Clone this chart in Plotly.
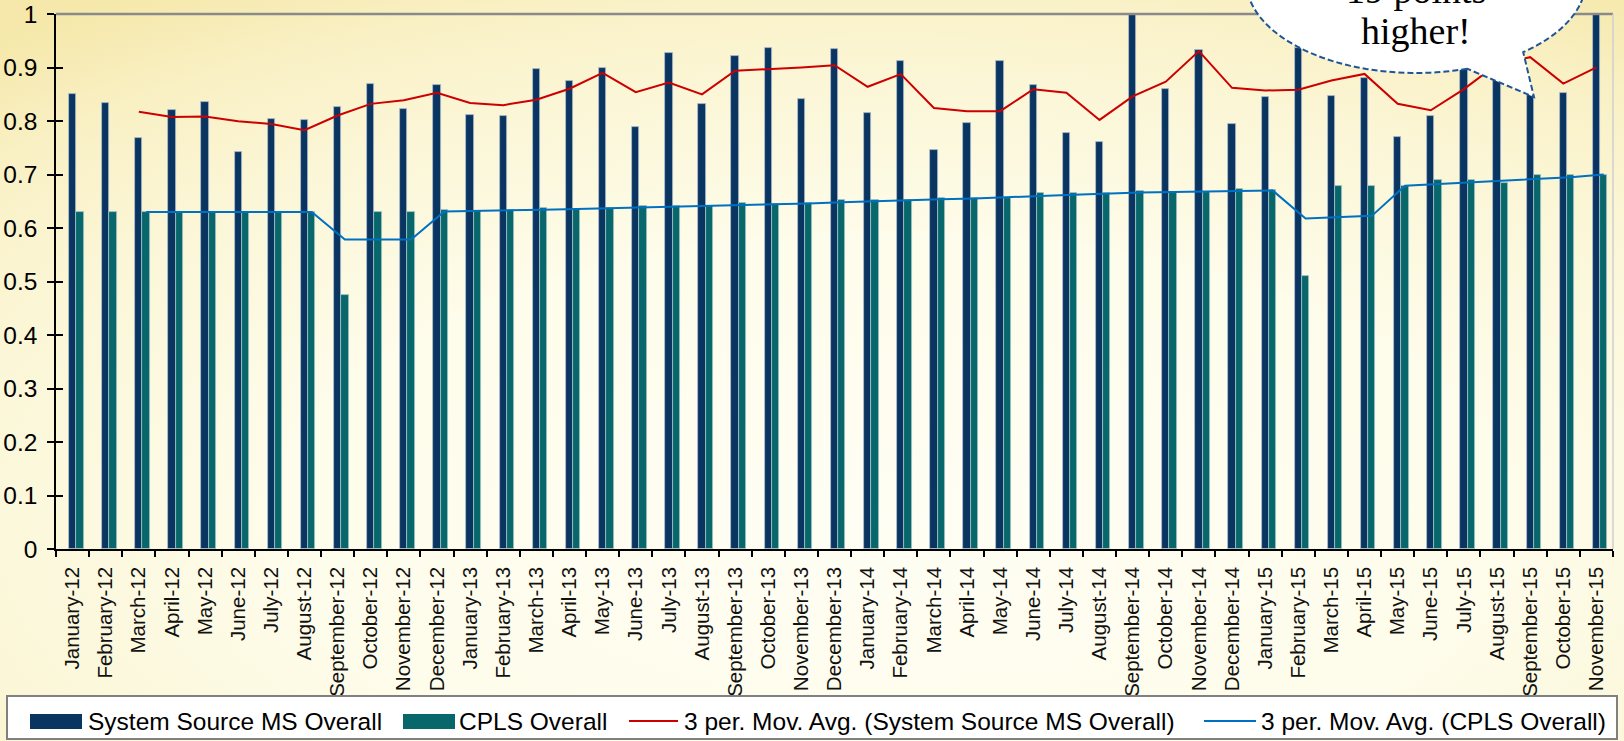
import base64
import numpy as np
import pandas as pd
import plotly.graph_objects as go

# ---------------- data ----------------
months = ["January", "February", "March", "April", "May", "June", "July",
          "August", "September", "October", "November", "December"]
years = ["12", "13", "14", "15"]
categories = [f"{m}-{y}" for y in years for m in months][:47]   # Jan-12 .. Nov-15

system_source_ms = [0.850, 0.833, 0.769, 0.820, 0.836, 0.743, 0.804, 0.801, 0.826, 0.869, 0.822, 0.867,
                    0.812, 0.810, 0.897, 0.874, 0.899, 0.789, 0.928, 0.832, 0.922, 0.936, 0.842, 0.935,
                    0.815, 0.913, 0.745, 0.797, 0.913, 0.868, 0.777, 0.761, 1.000, 0.859, 0.933, 0.794,
                    0.844, 0.937, 0.846, 0.881, 0.770, 0.809, 1.000, 0.909, 0.849, 0.852, 1.000]
cpls = [0.630, 0.630, 0.630, 0.630, 0.630, 0.630, 0.630, 0.630, 0.475, 0.630, 0.630, 0.633,
        0.632, 0.634, 0.637, 0.636, 0.638, 0.642, 0.641, 0.642, 0.646, 0.645, 0.647, 0.652,
        0.652, 0.652, 0.657, 0.657, 0.657, 0.665, 0.665, 0.665, 0.669, 0.668, 0.668, 0.672,
        0.671, 0.510, 0.679, 0.679, 0.679, 0.689, 0.689, 0.685, 0.700, 0.700, 0.700]

series_names = ["System Source MS Overall", "CPLS Overall",
                "3 per. Mov. Avg. (System Source MS Overall)", "3 per. Mov. Avg. (CPLS Overall)"]
callout_lines = ["19 points", "higher!"]

# 3-period moving-average trendlines (Excel style)
ma_ss = pd.Series(system_source_ms).rolling(3).mean()
ma_cpls = pd.Series(cpls).rolling(3).mean()
idx = np.arange(len(categories))

# ---------------- geometry ----------------
W, H = 1624, 741
ML, MR, MT, MB = 56, 11, 14, 192
PW, PH = W - ML - MR, H - MT - MB


def px(x):
    return (x - ML) / PW


def py(y):
    return 1 - (y - MT) / PH


NAVY = "#0B3561"
TEAL = "#07676B"
RED = "#CC0000"
BLUE = "#0070C0"
BAR_W = 0.22

fig = go.Figure()
fig.add_trace(go.Bar(x=categories, y=system_source_ms, name=series_names[0],
                     width=BAR_W, offset=-BAR_W / 2, marker_color=NAVY,
                     marker_line=dict(color="rgba(175,195,215,0.9)", width=0.8),
                     showlegend=False))
fig.add_trace(go.Bar(x=categories, y=cpls, name=series_names[1],
                     width=BAR_W, offset=BAR_W / 2, marker_color=TEAL,
                     marker_line=dict(color="rgba(175,200,205,0.9)", width=0.8),
                     showlegend=False))
valid = ~ma_ss.isna().values
fig.add_trace(go.Scatter(x=idx[valid], y=ma_ss[valid], mode="lines", name=series_names[2],
                         line=dict(color=RED, width=2), xaxis="x2", yaxis="y2", showlegend=False))
fig.add_trace(go.Scatter(x=idx[valid] + BAR_W, y=ma_cpls[valid], mode="lines", name=series_names[3],
                         line=dict(color=BLUE, width=2), xaxis="x2", yaxis="y2", showlegend=False))

# background radial gradient
svg = (f"<svg xmlns='http://www.w3.org/2000/svg' width='{W}' height='{H}'>"
       "<defs><radialGradient id='g' cx='0.55' cy='0.7' r='0.85'>"
       "<stop offset='0' stop-color='#FFFEF4'/>"
       "<stop offset='0.45' stop-color='#FEFCEA'/>"
       "<stop offset='0.7' stop-color='#FBF6D6'/>"
       "<stop offset='0.86' stop-color='#F9F0C4'/>"
       "<stop offset='1' stop-color='#F5E8AA'/>"
       "</radialGradient></defs>"
       f"<rect width='{W}' height='{H}' fill='url(#g)'/></svg>")
bg_src = "data:image/svg+xml;base64," + base64.b64encode(svg.encode()).decode()

shapes = []
# plot-area top / right border
shapes.append(dict(type="line", xref="paper", yref="paper", x0=0, x1=1, y0=1, y1=1,
                   line=dict(color="#8A8A8A", width=2.5), layer="above"))
shapes.append(dict(type="line", xref="paper", yref="paper", x0=1, x1=1, y0=0, y1=1,
                   line=dict(color="#CFCFCF", width=1.5), layer="above"))

# speech bubble (ellipse + tail)
cx, cy, a, b = 1416, -20, 170, 93
th = np.radians(np.linspace(72.5, 410.9, 160))
ex = cx + a * np.cos(th)
ey = cy + b * np.sin(th)
pts = list(zip(ex, ey)) + [(1534, 97)]
path = "M " + " L ".join(f"{px(x):.5f},{py(y):.5f}" for x, y in pts) + " Z"
shapes.append(dict(type="path", xref="paper", yref="paper", path=path,
                   fillcolor="white", line=dict(color="#1F5597", width=2, dash="6px,3px"),
                   layer="above"))

# custom legend
shapes.append(dict(type="rect", xref="paper", yref="paper",
                   x0=px(7), x1=px(1617), y0=py(696), y1=py(739),
                   fillcolor="white", line=dict(color="#808080", width=2), layer="above"))
shapes.append(dict(type="rect", xref="paper", yref="paper",
                   x0=px(30), x1=px(82), y0=py(714), y1=py(729),
                   fillcolor=NAVY, line=dict(width=0), layer="above"))
shapes.append(dict(type="rect", xref="paper", yref="paper",
                   x0=px(403), x1=px(455), y0=py(714), y1=py(729),
                   fillcolor=TEAL, line=dict(width=0), layer="above"))
shapes.append(dict(type="line", xref="paper", yref="paper",
                   x0=px(629), x1=px(678), y0=py(721), y1=py(721),
                   line=dict(color=RED, width=2), layer="above"))
shapes.append(dict(type="line", xref="paper", yref="paper",
                   x0=px(1204), x1=px(1256), y0=py(721), y1=py(721),
                   line=dict(color=BLUE, width=2), layer="above"))

LEG_FONT = dict(family="Liberation Sans, Arial, sans-serif", size=24.5, color="#000000")
annotations = []
for xpos, txt in [(87, series_names[0]), (458, series_names[1]),
                  (683, series_names[2]), (1260, series_names[3])]:
    annotations.append(dict(xref="paper", yref="paper", x=px(xpos), y=py(721),
                            xanchor="left", yanchor="middle", text=txt, showarrow=False,
                            font=LEG_FONT, borderpad=0))
CALLOUT_FONT = dict(family="Liberation Serif, Times New Roman, serif", size=38, color="#000000")
for ybottom, txt in [(13, callout_lines[0]), (54, callout_lines[1])]:
    annotations.append(dict(xref="paper", yref="paper", x=px(1416), y=py(ybottom),
                            xanchor="center", yanchor="bottom", text=txt, showarrow=False,
                            font=CALLOUT_FONT))

fig.update_layout(
    width=W, height=H, autosize=False,
    margin=dict(l=ML, r=MR, t=MT, b=MB, pad=0),
    paper_bgcolor="#FDFBE6", plot_bgcolor="rgba(0,0,0,0)",
    barmode="overlay", bargap=0,
    showlegend=False,
    images=[dict(source=bg_src, xref="paper", yref="paper", x=px(0), y=py(0),
                 sizex=W / PW, sizey=H / PH, xanchor="left", yanchor="top",
                 sizing="stretch", layer="below")],
    xaxis=dict(type="category", range=[-0.5, 46.5], tickson="boundaries",
               ticks="outside", ticklen=6, tickwidth=1.5, tickcolor="#000",
               showline=True, linecolor="#000", linewidth=1.5, showgrid=False,
               tickangle=-90, ticklabelstandoff=8, automargin=False,
               tickfont=dict(family="Liberation Sans, Arial, sans-serif", size=20.5, color="#111")),
    yaxis=dict(range=[0, 1], dtick=0.1, tick0=0, ticks="outside", ticklen=7, tickwidth=1.5,
               tickcolor="#000", showline=True, linecolor="#000", linewidth=1.5,
               showgrid=False, zeroline=False, automargin=False, ticklabelstandoff=5,
               tickfont=dict(family="Liberation Sans, Arial, sans-serif", size=24.5, color="#000")),
    xaxis2=dict(overlaying="x", range=[-0.5, 46.5], visible=False, anchor="y2"),
    yaxis2=dict(overlaying="y", anchor="x", side="left", range=[0, 1], dtick=0.1, tick0=0,
                ticks="inside", ticklen=7, tickwidth=1.5, tickcolor="#000",
                showticklabels=False, showline=False, showgrid=False, zeroline=False),
    shapes=shapes,
    annotations=annotations,
)

fig.write_html("out.html", config={"displayModeBar": False},
               post_script="document.body.style.margin='0';")
